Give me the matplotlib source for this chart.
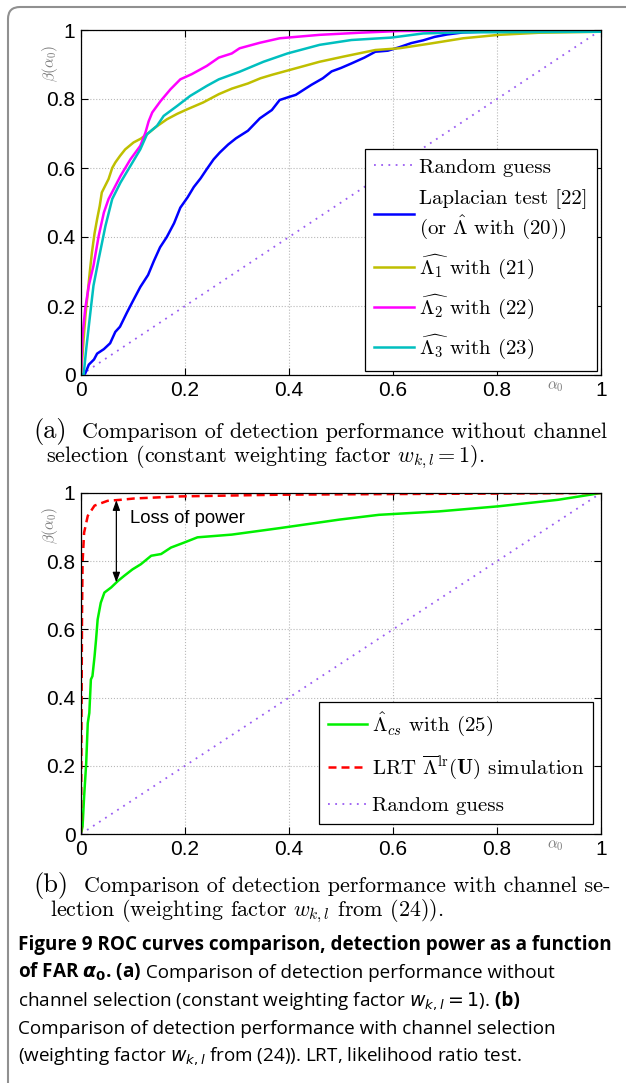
import numpy as np
import matplotlib
matplotlib.use('Agg')
import matplotlib.pyplot as plt
from matplotlib.patches import FancyBboxPatch

plt.rcParams['mathtext.fontset'] = 'cm'

# ---- data ----
ticks = [0, 0.2, 0.4, 0.6, 0.8, 1]
tick_labels = ['0', '0.2', '0.4', '0.6', '0.8', '1']

guess_x = [0, 1]
guess_y = [0, 1]

# (a) no channel selection
lap_x = [0, 0.008, 0.015, 0.025, 0.031, 0.044, 0.056, 0.066, 0.075, 0.088, 0.100, 0.114, 0.129,
         0.140, 0.152, 0.165, 0.179, 0.191, 0.205, 0.217, 0.230, 0.242, 0.255, 0.267, 0.283, 0.298,
         0.321, 0.344, 0.367, 0.382, 0.398, 0.413, 0.443, 0.465, 0.482, 0.500, 0.520, 0.545, 0.566,
         0.590, 0.612, 0.635, 0.658, 0.680, 0.704, 0.735, 0.770, 0.804, 0.900, 1.0]
lap_y = [0, 0.004, 0.030, 0.045, 0.062, 0.075, 0.092, 0.125, 0.140, 0.180, 0.215, 0.255, 0.290,
         0.330, 0.370, 0.400, 0.440, 0.485, 0.515, 0.545, 0.570, 0.597, 0.625, 0.645, 0.668, 0.686,
         0.708, 0.744, 0.768, 0.797, 0.805, 0.812, 0.841, 0.860, 0.880, 0.890, 0.903, 0.920, 0.937,
         0.940, 0.950, 0.962, 0.970, 0.980, 0.987, 0.993, 0.995, 0.996, 0.997, 1.0]

tm1_x = [0, 0.003, 0.005, 0.009, 0.013, 0.017, 0.021, 0.026, 0.031, 0.036, 0.040, 0.047, 0.053,
         0.060, 0.066, 0.075, 0.085, 0.101, 0.115, 0.127, 0.145, 0.165, 0.185, 0.204, 0.235, 0.265,
         0.290, 0.321, 0.345, 0.367, 0.413, 0.459, 0.505, 0.566, 0.612, 0.673, 0.735, 0.804, 0.880, 1.0]
tm1_y = [0, 0.06, 0.104, 0.18, 0.239, 0.30, 0.355, 0.41, 0.452, 0.49, 0.529, 0.55, 0.568,
         0.60, 0.616, 0.635, 0.654, 0.674, 0.685, 0.698, 0.72, 0.741, 0.757, 0.770, 0.79, 0.814,
         0.83, 0.845, 0.86, 0.870, 0.889, 0.908, 0.923, 0.942, 0.947, 0.961, 0.976, 0.986, 0.992, 0.995]

tm2_x = [0, 0.003, 0.008, 0.015, 0.024, 0.034, 0.044, 0.053, 0.063, 0.076, 0.095, 0.114, 0.124,
         0.130, 0.137, 0.153, 0.172, 0.191, 0.213, 0.242, 0.265, 0.290, 0.305, 0.344, 0.382, 0.459,
         0.535, 0.612, 1.0]
tm2_y = [0, 0.114, 0.191, 0.259, 0.317, 0.403, 0.471, 0.510, 0.539, 0.577, 0.625, 0.664, 0.703,
         0.735, 0.761, 0.794, 0.828, 0.857, 0.872, 0.896, 0.920, 0.932, 0.947, 0.963, 0.976, 0.986,
         0.992, 0.997, 1.0]

tm3_x = [0, 0.005, 0.010, 0.018, 0.024, 0.034, 0.047, 0.060, 0.076, 0.095, 0.114, 0.127, 0.146,
         0.159, 0.185, 0.210, 0.242, 0.265, 0.305, 0.351, 0.397, 0.459, 0.520, 0.597, 0.658, 0.727, 1.0]
tm3_y = [0, 0.0, 0.075, 0.181, 0.259, 0.336, 0.432, 0.510, 0.558, 0.606, 0.654, 0.698, 0.722,
         0.751, 0.780, 0.809, 0.838, 0.857, 0.879, 0.908, 0.932, 0.957, 0.971, 0.978, 0.990, 0.993, 0.995]

# (b) with channel selection
cs_x = [0, 0.003, 0.006, 0.010, 0.013, 0.016, 0.019, 0.022, 0.026, 0.029, 0.032, 0.038, 0.045,
        0.058, 0.071, 0.083, 0.099, 0.115, 0.135, 0.154, 0.173, 0.199, 0.224, 0.290, 0.382, 0.497,
        0.573, 0.688, 0.803, 0.917, 1.0]
cs_y = [0, 0.022, 0.110, 0.208, 0.325, 0.355, 0.453, 0.463, 0.52, 0.571, 0.629, 0.678, 0.708,
        0.723, 0.742, 0.757, 0.776, 0.791, 0.816, 0.821, 0.840, 0.855, 0.870, 0.878, 0.897, 0.922,
        0.936, 0.946, 0.961, 0.980, 1.0]

lrt_x = [0, 0.001, 0.002, 0.003, 0.006, 0.013, 0.026, 0.051, 0.076, 0.103, 0.19, 0.38, 0.61, 1.0]
lrt_y = [0, 0.355, 0.649, 0.796, 0.884, 0.933, 0.963, 0.977, 0.980, 0.984, 0.990, 0.995, 0.997, 1.0]

arrow_x = 0.068

W, H = 626, 1083
fig = plt.figure(figsize=(W / 100, H / 100), dpi=100)

tick_font = 'Liberation Sans'
cm_font = 'cmr10'
purple = '#9a5cf2'
lw = 1.8


def style_axes(ax):
    ax.set_xlim(0, 1)
    ax.set_ylim(0, 1)
    ax.set_xticks(ticks)
    ax.set_yticks(ticks)
    ax.set_xticklabels(tick_labels, fontfamily=tick_font, fontsize=15)
    ax.set_yticklabels(tick_labels, fontfamily=tick_font, fontsize=15)
    ax.tick_params(direction='in', top=True, right=True, length=5, width=0.8, pad=4)
    ax.grid(color='#b8b8b8', linestyle=':', linewidth=0.8)
    for s in ax.spines.values():
        s.set_linewidth(0.9)
    ax.set_xlabel(r'$\alpha_0$', color='#7a7a7a', fontsize=11)
    ax.xaxis.set_label_coords(0.912, -0.012)
    ax.set_ylabel(r'$\beta(\alpha_0)$', color='#7a7a7a', fontsize=11)
    ax.yaxis.set_label_coords(-0.04, 0.904)


def px_text(x, y, s, **kw):
    return fig.text(x / W, 1 - y / H, s, va='baseline', **kw)


# ---- panel (a) ----
ax1 = fig.add_axes([81 / W, 1 - 375 / H, 520 / W, 345 / H])
ax1.plot(guess_x, guess_y, color=purple, linestyle=(0, (1, 3)), linewidth=1.3, label='Random guess')
ax1.plot(lap_x, lap_y, color='#0000ff', linewidth=lw,
         label='Laplacian test [22]\n' + r'(or $\hat{\Lambda}$ with (20))')
ax1.plot(tm1_x, tm1_y, color='#bfbf00', linewidth=lw, label=r'$\widehat{\Lambda_1}$ with (21)')
ax1.plot(tm2_x, tm2_y, color='#ff00ff', linewidth=lw, label=r'$\widehat{\Lambda_2}$ with (22)')
ax1.plot(tm3_x, tm3_y, color='#00bfbf', linewidth=lw, label=r'$\widehat{\Lambda_3}$ with (23)')
style_axes(ax1)
leg1 = ax1.legend(loc='lower right', bbox_to_anchor=(0.992, 0.012), borderaxespad=0,
                  prop={'family': cm_font, 'size': 15}, fancybox=False, framealpha=1,
                  edgecolor='black', handlelength=1.9, handletextpad=0.25, labelspacing=0.58,
                  borderpad=0.45)
leg1.get_frame().set_linewidth(0.9)

# ---- panel (b) ----
ax2 = fig.add_axes([81 / W, 1 - 834 / H, 520 / W, 341 / H])
ax2.plot(cs_x, cs_y, color='#00f000', linewidth=lw, label=r'$\hat{\Lambda}_{cs}$ with (25)')
ax2.plot(lrt_x, lrt_y, color='#ff0000', linewidth=lw, dashes=(3.2, 2),
         label=r'LRT $\overline{\Lambda}^{\mathrm{lr}}(\mathbf{U})$ simulation')
ax2.plot(guess_x, guess_y, color=purple, linestyle=(0, (1, 3)), linewidth=1.3, label='Random guess')
style_axes(ax2)
leg2 = ax2.legend(loc='lower right', bbox_to_anchor=(0.985, 0.03), borderaxespad=0,
                  prop={'family': cm_font, 'size': 15}, fancybox=False, framealpha=1,
                  edgecolor='black', handlelength=1.9, handletextpad=0.25, labelspacing=0.75,
                  borderpad=0.4)
leg2.get_frame().set_linewidth(0.9)

top = np.interp(arrow_x, lrt_x, lrt_y)
bottom = np.interp(arrow_x, cs_x, cs_y)
ax2.annotate('', xy=(arrow_x, top), xytext=(arrow_x, bottom),
             arrowprops=dict(arrowstyle='<|-|>,head_length=0.6,head_width=0.22',
                             color='black', lw=0.9, shrinkA=0, shrinkB=0))
ax2.text(arrow_x + 0.026, 0.925, 'Loss of power', fontfamily=tick_font, fontsize=13.3,
         va='center', ha='left')

# ---- sub captions ----
px_text(33, 438, '(a)', fontfamily=cm_font, fontsize=19)
px_text(82, 438, 'Comparison of detection performance without channel',
        fontfamily=cm_font, fontsize=15.9)
px_text(46, 462, r'selection (constant weighting factor $w_{k,l} = 1$).',
        fontfamily=cm_font, fontsize=15.9)
px_text(33, 892, '(b)', fontfamily=cm_font, fontsize=19)
px_text(84, 892, 'Comparison of detection performance with channel se-',
        fontfamily=cm_font, fontsize=15.9)
px_text(50, 916, r'lection (weighting factor $w_{k,l}$ from (24)).',
        fontfamily=cm_font, fontsize=15.9)

# ---- figure caption ----
cap_font = 'Open Sans'
cap_size = 13.6
renderer = fig.canvas.get_renderer()


def cap_line(x, y, parts):
    for s, bold in parts:
        t = px_text(x, y, s, fontfamily=cap_font, fontsize=cap_size,
                    fontweight='bold' if bold else 'normal', math_fontfamily='dejavusans')
        bb = t.get_window_extent(renderer)
        x = bb.x1


cap_x = 18
cap_line(cap_x, 950, [('Figure 9 ROC curves comparison, detection power as a function', True)])
cap_line(cap_x, 978, [(r'of FAR $\boldsymbol{\alpha}_\mathbf{0}$. (a)', True),
                      (' Comparison of detection performance without', False)])
cap_line(cap_x, 1006, [(r'channel selection (constant weighting factor $w_{k,l} = 1$).', False),
                       (' (b)', True)])
cap_line(cap_x, 1034, [('Comparison of detection performance with channel selection', False)])
cap_line(cap_x, 1061, [(r'(weighting factor $w_{k,l}$ from (24)). LRT, likelihood ratio test.', False)])

# rounded frame around the whole figure
frame = FancyBboxPatch((0.08, -0.4), 6.5, 11.16, boxstyle='round,pad=0,rounding_size=0.12',
                       transform=fig.dpi_scale_trans, facecolor='none', edgecolor='#909090',
                       linewidth=1.5)
fig.add_artist(frame)

fig.savefig('out.png', dpi=100)
